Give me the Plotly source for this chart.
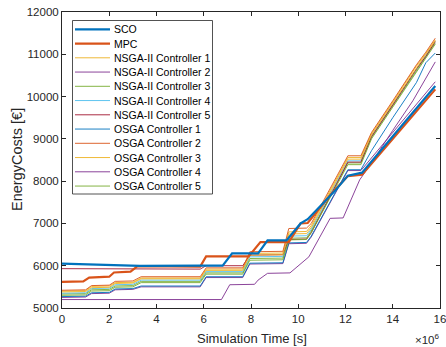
import plotly.graph_objects as go

# ---------------- data (time in 1e6 s, cost in EUR) ----------------
names = ["SCO", "MPC",
         "NSGA-II Controller 1", "NSGA-II Controller 2", "NSGA-II Controller 3",
         "NSGA-II Controller 4", "NSGA-II Controller 5",
         "OSGA Controller 1", "OSGA Controller 2", "OSGA Controller 3",
         "OSGA Controller 4", "OSGA Controller 5"]

x_sco = [0, 3.3, 5.9, 6.8, 7.2, 8.3, 8.7, 9.5, 10.1, 10.4, 11.0, 11.6, 12.1, 12.7, 15.8]
y_sco = [6050, 5995, 6000, 6000, 6290, 6290, 6600, 6600, 7000, 7100, 7450, 7800, 8130, 8200, 10250]

x_mpc = [0, 0.9, 1.15, 2.0, 2.2, 2.9, 3.2, 5.85, 6.1, 7.9, 8.4, 9.6, 10.1, 10.4, 11.4, 12.1, 12.7, 15.8]
y_mpc = [5620, 5630, 5720, 5740, 5840, 5860, 5990, 5980, 6220, 6220, 6560, 6560, 7000, 7010, 7700, 8120, 8150, 10170]

# common time grid for the GA controllers
x_ga = [0, 1.0, 1.25, 2.0, 2.25, 3.0, 3.35, 5.85, 6.1, 7.65, 7.95, 9.35, 9.6, 10.35, 10.55,
        12.1, 12.65, 13.1, 14.0, 15.0, 15.4, 15.8]

y_nsga1 = [5400, 5410, 5510, 5520, 5600, 5610, 5710, 5710, 5920, 5920, 6290, 6300, 6800, 6810, 6950,
           8560, 8560, 9120, 9870, 10720, 11020, 11340]
y_nsga2 = [5250, 5260, 5340, 5350, 5430, 5440, 5500, 5500, 5720, 5720, 6040, 6050, 6520, 6530, 6680,
           8250, 8250, 8550, 9150, 9820, 10080, 10350]
y_nsga3 = [5330, 5340, 5430, 5440, 5520, 5530, 5630, 5630, 5830, 5830, 6170, 6180, 6650, 6660, 6820,
           8430, 8430, 9030, 9780, 10630, 10940, 11270]
y_nsga4 = [5350, 5360, 5460, 5470, 5550, 5560, 5660, 5660, 5860, 5860, 6210, 6220, 6700, 6710, 6860,
           8480, 8480, 9060, 9810, 10660, 10970, 11300]
y_nsga5 = [5930, 5930, 5930, 5930, 5930, 5925, 5925, 5920, 6000, 6000, 6250, 6260, 6620, 6630, 6780,
           8450, 8450, 9050, 9800, 10650, 10950, 11300]
y_osga1 = [5270, 5280, 5360, 5370, 5450, 5460, 5520, 5520, 5740, 5740, 6060, 6070, 6540, 6550, 6700,
           8270, 8270, 8720, 9500, 10330, 10800, 11030]
y_osga2 = [5420, 5430, 5530, 5540, 5630, 5640, 5740, 5740, 5950, 5950, 6330, 6340, 6880, 6890, 7000,
           8600, 8600, 9150, 9900, 10750, 11050, 11380]
y_osga3 = [5380, 5390, 5480, 5490, 5580, 5590, 5690, 5690, 5890, 5890, 6250, 6260, 6750, 6760, 6900,
           8520, 8520, 9090, 9840, 10690, 11000, 11320]
y_osga5 = [5300, 5310, 5400, 5410, 5490, 5500, 5600, 5600, 5800, 5800, 6130, 6140, 6610, 6620, 6780,
           8390, 8390, 9000, 9750, 10600, 10910, 11240]

x_osga4 = [0, 6.75, 7.1, 8.15, 8.3, 8.7, 9.65, 10.3, 10.45, 11.35, 11.9, 12.6, 13.0, 14.0, 14.85, 15.8]
y_osga4 = [5200, 5200, 5550, 5560, 5660, 5820, 5830, 6140, 6210, 7120, 7130, 8030, 8350, 9200, 9900, 10820]

x_ticks = [0, 2, 4, 6, 8, 10, 12, 14, 16]
y_ticks = [5000, 6000, 7000, 8000, 9000, 10000, 11000, 12000]

# ---------------- styling ----------------
C = ["#0072BD", "#D95319", "#EDB120", "#7E2F8E", "#77AC30", "#4DBEEE", "#A2142F"]
colors = [C[0], C[1], C[2], C[3], C[4], C[5], C[6], C[0], C[1], C[2], C[3], C[4]]
widths = [2.2, 2.2] + [0.9] * 10

series = [(x_sco, y_sco), (x_mpc, y_mpc),
          (x_ga, y_nsga1), (x_ga, y_nsga2), (x_ga, y_nsga3), (x_ga, y_nsga4), (x_ga, y_nsga5),
          (x_ga, y_osga1), (x_ga, y_osga2), (x_ga, y_osga3), (x_osga4, y_osga4), (x_ga, y_osga5)]

FONT = "Arial, Liberation Sans, sans-serif"
W, H = 446, 347
L, R, T, B = 62, 6, 12, 39
PW, PH = W - L - R, H - T - B

def px(xp):
    return (xp - L) / PW

def py(yp):
    return (H - B - yp) / PH

fig = go.Figure()
# draw thin lines first, thick ones on top
order = list(range(2, 12)) + [1, 0]
for i in order:
    xs, ys = series[i]
    fig.add_trace(go.Scatter(x=xs, y=ys, mode="lines", name=names[i],
                             line=dict(color=colors[i], width=widths[i]),
                             showlegend=False, hoverinfo="skip"))

# ---------------- custom legend (MATLAB-like compact box) ----------------
shapes = [dict(type="rect", xref="paper", yref="paper",
               x0=px(72.5), x1=px(212.5), y0=py(194), y1=py(20.5),
               line=dict(color="#262626", width=0.8), fillcolor="white", layer="above")]
annotations = []
for i, nm in enumerate(names):
    yy = 29.3 + 14.25 * i
    shapes.append(dict(type="line", xref="paper", yref="paper",
                       x0=px(75), x1=px(110), y0=py(yy), y1=py(yy),
                       line=dict(color=colors[i], width=widths[i]), layer="above"))
    annotations.append(dict(text=nm, xref="paper", yref="paper", x=px(112), y=py(yy),
                            xanchor="left", yanchor="middle", showarrow=False,
                            font=dict(family=FONT, size=10.5, color="#000000")))

annotations.append(dict(text="Simulation Time [s]", xref="paper", yref="paper",
                        x=px(252), y=py(338), xanchor="center", yanchor="middle",
                        showarrow=False, font=dict(family=FONT, size=13, color="#262626")))
annotations.append(dict(text="EnergyCosts [€]", xref="paper", yref="paper",
                        x=px(17), y=py(160), xanchor="center", yanchor="middle", textangle=-90,
                        showarrow=False, font=dict(family=FONT, size=14.5, color="#262626")))
annotations.append(dict(text="×10<sup>6</sup>", xref="paper", yref="paper",
                        x=px(442), y=py(339), xanchor="right", yanchor="middle",
                        showarrow=False, font=dict(family=FONT, size=11.5, color="#262626")))

axis_common = dict(showgrid=False, zeroline=False, showline=True, linecolor="#262626",
                   linewidth=1, mirror="allticks", ticks="inside", ticklen=4,
                   tickcolor="#262626", tickwidth=1, automargin=False,
                   tickfont=dict(family=FONT, size=11.5, color="#262626"))

fig.update_layout(
    width=W, height=H,
    margin=dict(l=L, r=R, t=T, b=B, autoexpand=False),
    paper_bgcolor="white", plot_bgcolor="white",
    xaxis=dict(range=[0, 16], tickvals=x_ticks, ticktext=[str(v) for v in x_ticks],
               ticklabeloverflow="allow", **axis_common),
    yaxis=dict(range=[5000, 12000], tickvals=y_ticks, ticktext=[str(v) for v in y_ticks], **axis_common),
    shapes=shapes, annotations=annotations, showlegend=False,
)

fig.write_html("out.html", config={"displayModeBar": False},
               post_script="document.body.style.margin='0';document.body.style.overflow='hidden';")
